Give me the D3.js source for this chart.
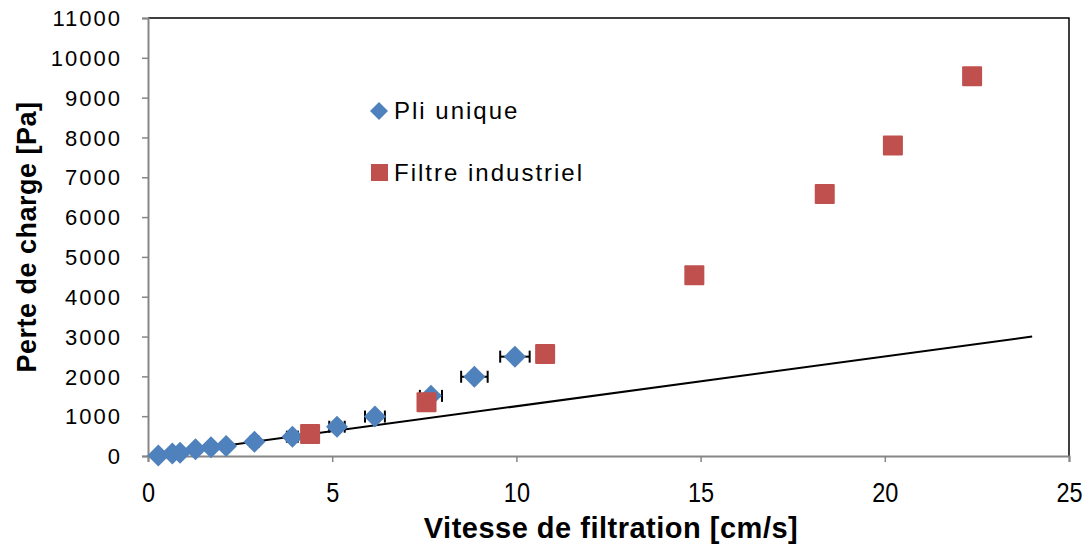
<!DOCTYPE html>
<html>
<head>
<meta charset="utf-8">
<script src="https://cdn.jsdelivr.net/npm/d3@7"></script>
<style>
  body { margin: 0; background: #fff; }
  text { font-family: "Liberation Sans", Arial, sans-serif; }
</style>
</head>
<body>
<div id="chart"></div>
<script>
// Pli unique (blue diamonds): vitesse [cm/s], perte de charge [Pa], error on vitesse
var pliX   = [0.28, 0.66, 0.87, 1.29, 1.71, 2.12, 2.89, 3.92, 5.13, 6.16, 7.68, 8.86, 9.96];
var pliY   = [10, 60, 80, 170, 220, 250, 360, 485, 735, 990, 1510, 1990, 2495];
var pliErr = [0.02, 0.03, 0.04, 0.05, 0.07, 0.08, 0.11, 0.15, 0.21, 0.27, 0.30, 0.36, 0.40];

// Filtre industriel (red squares)
var indX = [4.40, 7.56, 10.78, 14.83, 18.37, 20.22, 22.37];
var indY = [553, 1350, 2563, 4540, 6583, 7796, 9540];

// straight reference line
var lineX = [0.3, 24];
var lineY = [37, 3000];

var xTicks = [0, 5, 10, 15, 20, 25];
var yTicks = [0, 1000, 2000, 3000, 4000, 5000, 6000, 7000, 8000, 9000, 10000, 11000];

var W = 1092, H = 548;
var margin = { top: 18, right: 23, bottom: 92, left: 148 };
var width = W - margin.left - margin.right,
    height = H - margin.top - margin.bottom;

var svg = d3.select("#chart").append("svg")
    .attr("width", W)
    .attr("height", H);

var g = svg.append("g")
    .attr("transform", "translate(" + margin.left + "," + margin.top + ")");

var x = d3.scaleLinear().domain([0, 25]).range([0, width]);
var y = d3.scaleLinear().domain([0, 11000]).range([height, 0]);

// frame top / right (black)
g.append("path")
    .attr("d", "M0,0H" + width + "V" + height)
    .attr("fill", "none")
    .attr("stroke", "#000")
    .attr("stroke-width", 1.5);

// axes
var xAxis = g.append("g")
    .attr("transform", "translate(0," + height + ")")
    .call(d3.axisBottom(x).tickValues(xTicks).tickSize(6).tickPadding(21).tickFormat(d3.format("d")));
var yAxis = g.append("g")
    .call(d3.axisLeft(y).tickValues(yTicks).tickSize(6).tickPadding(20).tickFormat(d3.format("d")));

[xAxis, yAxis].forEach(function(a) {
    a.select(".domain").attr("stroke", "#868686").attr("stroke-width", 2);
    a.selectAll(".tick line").attr("stroke", "#868686").attr("stroke-width", 1.5);
    a.selectAll(".tick text")
        .attr("fill", "#000")
        .style("font-family", "'Liberation Sans', Arial, sans-serif");
});
yAxis.selectAll(".tick text")
    .style("font-size", "22px")
    .style("letter-spacing", "2px")
    .attr("dy", "0.35em");
xAxis.selectAll(".tick text")
    .style("font-size", "27px")
    .attr("transform", "scale(0.87,1)");

// reference line
g.append("line")
    .attr("x1", x(lineX[0])).attr("y1", y(lineY[0]))
    .attr("x2", x(lineX[1])).attr("y2", y(lineY[1]))
    .attr("stroke", "#000")
    .attr("stroke-width", 2);

var pli = pliX.map(function(v, i) { return { x: v, y: pliY[i], e: pliErr[i] }; });
var ind = indX.map(function(v, i) { return { x: v, y: indY[i] }; });

// error bars
var eb = g.selectAll(".err").data(pli).enter().append("g").attr("class", "err")
    .attr("stroke", "#000").attr("stroke-width", 2);
eb.append("line")
    .attr("x1", function(d) { return x(d.x - d.e); })
    .attr("x2", function(d) { return x(d.x + d.e); })
    .attr("y1", function(d) { return y(d.y); })
    .attr("y2", function(d) { return y(d.y); });
eb.append("line")
    .attr("x1", function(d) { return x(d.x - d.e); })
    .attr("x2", function(d) { return x(d.x - d.e); })
    .attr("y1", function(d) { return y(d.y) - 6; })
    .attr("y2", function(d) { return y(d.y) + 6; });
eb.append("line")
    .attr("x1", function(d) { return x(d.x + d.e); })
    .attr("x2", function(d) { return x(d.x + d.e); })
    .attr("y1", function(d) { return y(d.y) - 6; })
    .attr("y2", function(d) { return y(d.y) + 6; });

var diamond = "M0,-11L11,0L0,11L-11,0Z";

g.selectAll(".pli").data(pli).enter().append("path")
    .attr("class", "pli")
    .attr("d", diamond)
    .attr("transform", function(d) { return "translate(" + x(d.x) + "," + y(d.y) + ")"; })
    .attr("fill", "#4F81BD");

g.selectAll(".ind").data(ind).enter().append("rect")
    .attr("class", "ind")
    .attr("x", function(d) { return x(d.x) - 10; })
    .attr("y", function(d) { return y(d.y) - 10; })
    .attr("width", 20)
    .attr("height", 20)
    .attr("rx", 1)
    .attr("fill", "#C0504D");

// legend
var leg = svg.append("g");
leg.append("path")
    .attr("d", "M0,-9L9,0L0,9L-9,0Z")
    .attr("transform", "translate(379,111)")
    .attr("fill", "#4F81BD");
leg.append("text")
    .attr("x", 394).attr("y", 119)
    .style("font-size", "24px")
    .style("letter-spacing", "2px")
    .text("Pli unique");
leg.append("rect")
    .attr("x", 371).attr("y", 164).attr("width", 17).attr("height", 17)
    .attr("fill", "#C0504D");
leg.append("text")
    .attr("x", 394).attr("y", 181)
    .style("font-size", "24px")
    .style("letter-spacing", "2px")
    .text("Filtre industriel");

// axis titles
svg.append("text")
    .attr("x", 611).attr("y", 538)
    .attr("text-anchor", "middle")
    .style("font-size", "29px")
    .style("font-weight", "bold")
    .style("letter-spacing", "0.5px")
    .text("Vitesse de filtration [cm/s]");

svg.append("text")
    .attr("transform", "translate(36,237) rotate(-90)")
    .attr("text-anchor", "middle")
    .style("font-size", "27px")
    .style("font-weight", "bold")
    .style("letter-spacing", "0.5px")
    .text("Perte de charge [Pa]");
</script>
</body>
</html>
